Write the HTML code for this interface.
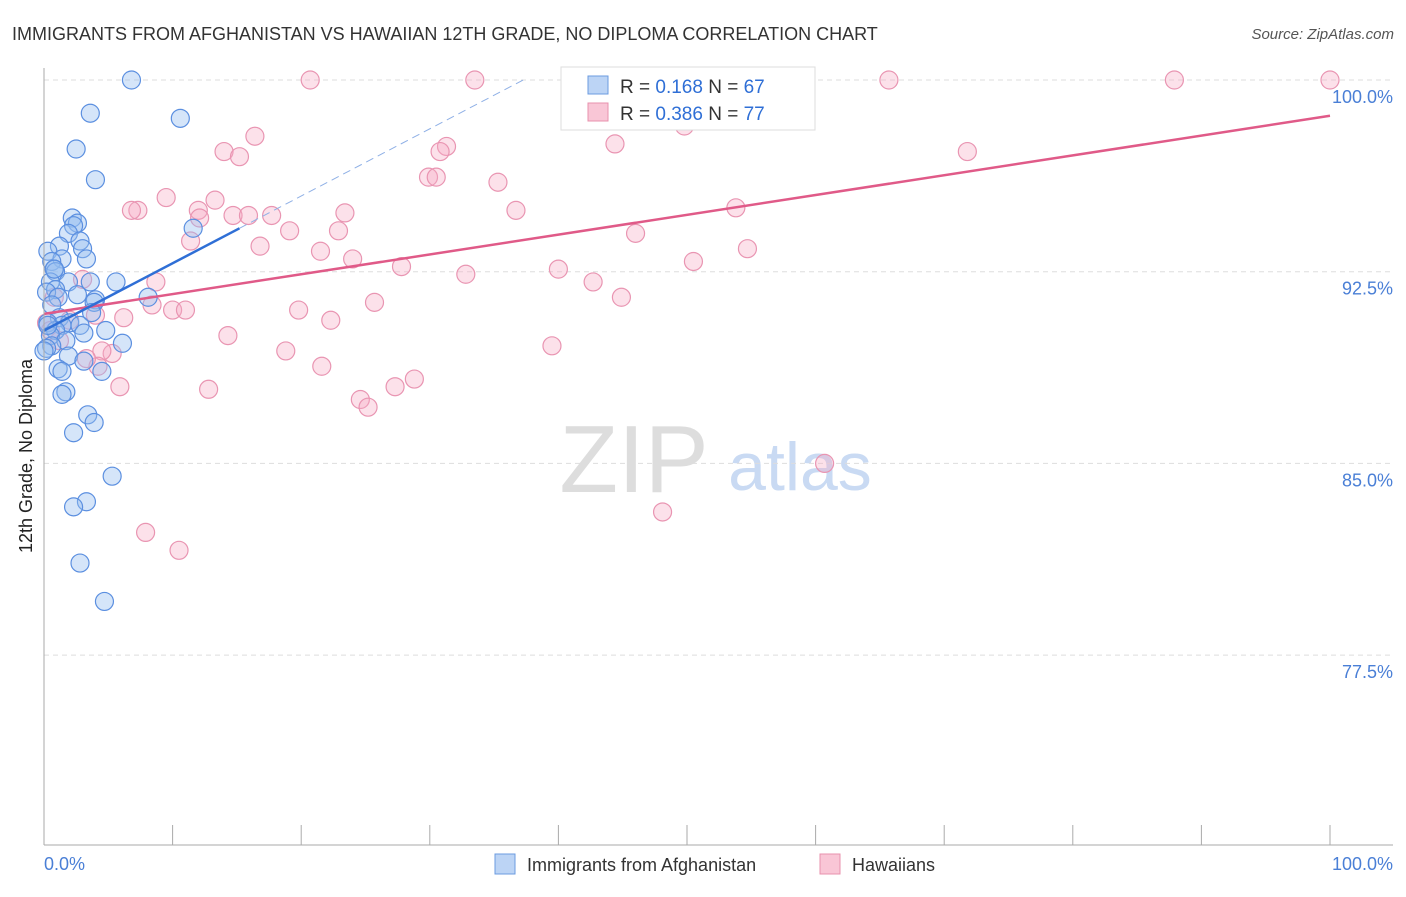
<!DOCTYPE html>
<html><head><meta charset="utf-8"><style>
body{margin:0;background:#fff;font-family:"Liberation Sans",sans-serif}
svg text{font-family:"Liberation Sans",sans-serif}
</style></head><body>
<svg width="1406" height="892" id="chart">
<text x="12" y="40" font-size="18" fill="#333">IMMIGRANTS FROM AFGHANISTAN VS HAWAIIAN 12TH GRADE, NO DIPLOMA CORRELATION CHART</text>
<text x="1394" y="39" font-size="15" fill="#555" font-style="italic" text-anchor="end">Source: ZipAtlas.com</text>
<text x="634" y="492" font-size="96" fill="#ddd" font-family="Liberation Serif" text-anchor="middle">ZIP</text>
<text x="800" y="490" font-size="68" fill="#c9daf3" text-anchor="middle">atlas</text>
<g id="grid"></g><g id="pts"></g><g id="lines"></g>
<line x1="44" y1="68" x2="44" y2="845" stroke="#aaa"/>
<line x1="44" y1="845" x2="1393" y2="845" stroke="#aaa"/>
<text x="32" y="456" font-size="18" fill="#222" text-anchor="middle" transform="rotate(-90 32 456)">12th Grade, No Diploma</text>
<text x="44" y="870" font-size="18" fill="#4a7fd6">0.0%</text>
<text x="1393" y="870" font-size="18" fill="#4a7fd6" text-anchor="end">100.0%</text>
<g>
<rect x="561" y="67" width="254" height="63" fill="#fff" stroke="#ddd"/>
<rect x="588" y="76" width="20" height="18" fill="#bcd4f5" stroke="#6b9be0"/>
<rect x="588" y="103" width="20" height="18" fill="#f9c6d6" stroke="#e891ad"/>
<text x="620" y="93" font-size="19" fill="#333">R = <tspan fill="#2f6fd6">0.168</tspan>   N = <tspan fill="#2f6fd6">67</tspan></text>
<text x="620" y="120" font-size="19" fill="#333">R = <tspan fill="#2f6fd6">0.386</tspan>   N = <tspan fill="#2f6fd6">77</tspan></text>
</g>
<g>
<rect x="495" y="854" width="20" height="20" fill="#bcd4f5" stroke="#6b9be0"/>
<text x="527" y="871" font-size="18" fill="#333">Immigrants from Afghanistan</text>
<rect x="820" y="854" width="20" height="20" fill="#f9c6d6" stroke="#e891ad"/>
<text x="852" y="871" font-size="18" fill="#333">Hawaiians</text>
</g>
</svg>
<script>
const yTicks=[100,92.5,85,77.5];
const yTickLabels=["100.0%","92.5%","85.0%","77.5%"];
const xTicks=[0,10,20,30,40,50,60,70,80,90,100];
const blueX=[6.8,3.6,10.6,2.5,4.0,2.2,2.6,2.3,11.6,1.9,2.8,1.2,3.0,0.3,3.3,1.4,0.6,0.8,0.9,5.6,1.9,0.5,3.6,0.9,0.2,2.6,1.1,4.0,3.9,8.1,0.6,3.7,1.2,0.3,2.0,1.4,2.8,0.9,4.8,3.1,0.5,1.7,6.1,0.6,0.2,1.9,3.1,1.1,1.4,4.5,1.7,1.4,3.4,3.9,2.3,5.3,3.3,2.3,2.8,4.7,0.8,0,0.3];
const blueY=[100,98.7,98.5,97.3,96.1,94.6,94.4,94.3,94.2,94.0,93.7,93.5,93.4,93.3,93.0,93.0,92.9,92.6,92.5,92.1,92.1,92.1,92.1,91.8,91.7,91.6,91.5,91.4,91.3,91.5,91.2,90.9,90.7,90.5,90.5,90.4,90.4,90.2,90.2,90.1,90.0,89.8,89.7,89.6,89.5,89.2,89.0,88.7,88.6,88.6,87.8,87.7,86.9,86.6,86.2,84.5,83.5,83.3,81.1,79.6,92.6,89.4,90.4];
const pinkX=[20.7,33.5,49.8,65.7,87.9,100,16.4,44.4,14.0,15.2,31.3,30.8,29.9,30.5,35.3,9.5,13.3,7.3,6.8,12.0,12.1,14.7,15.9,17.7,23.4,36.7,53.8,19.1,22.9,11.4,16.8,21.5,24.0,46.0,54.7,27.8,32.8,40.0,50.5,8.7,42.7,44.9,25.7,8.4,10.0,11.0,19.8,22.3,6.2,4.0,0.8,14.3,18.8,39.5,21.6,5.3,4.5,4.2,28.8,27.3,24.6,25.2,5.9,12.8,60.7,48.1,7.9,10.5,71.8,49.8,0.2,0.5,1.2,2.0,3.0,3.3];
const pinkY=[100,100,100,100,100,100,97.8,97.5,97.2,97.0,97.4,97.2,96.2,96.2,96.0,95.4,95.3,94.9,94.9,94.9,94.6,94.7,94.7,94.7,94.8,94.9,95.0,94.1,94.1,93.7,93.5,93.3,93.0,94.0,93.4,92.7,92.4,92.6,92.9,92.1,92.1,91.5,91.3,91.2,91.0,91.0,91.0,90.6,90.7,90.8,91.5,90.0,89.4,89.6,88.8,89.3,89.4,88.8,88.3,88.0,87.5,87.2,88.0,87.9,85.0,83.1,82.3,81.6,97.2,98.2,90.5,90.2,89.8,90.6,92.2,89.1];
const blueTrend=[90.2,0.263]; // intercept, slope
const pinkTrend=[90.85,0.0775];
const sx=v=>44+v*12.86, sy=v=>80+(100-v)*25.56;
const NS="http://www.w3.org/2000/svg";
function mk(t,a,p){const e=document.createElementNS(NS,t);for(const k in a)e.setAttribute(k,a[k]);p.appendChild(e);return e;}
const grid=document.getElementById('grid');
yTicks.forEach((t,i)=>{
 const l=mk('line',{x1:44,x2:1393,y1:sy(t),y2:sy(t),stroke:'#ddd','stroke-dasharray':'5,4'},grid);
 
 
 const tx=mk('text',{x:1393,y:sy(t)+23,'font-size':18,fill:'#4a7fd6','text-anchor':'end'},grid);
 tx.textContent=yTickLabels[i];
 
 
});
xTicks.forEach(t=>{
 const l=mk('line',{x1:sx(t),x2:sx(t),y1:825,y2:845,stroke:'#aaa'},grid);
 
 
});
const pts=document.getElementById('pts');
pinkX.forEach((x,i)=>{
 const c=mk('circle',{cx:sx(x),cy:sy(pinkY[i]),r:9,fill:'rgba(245,170,195,0.35)',stroke:'#e995b2','stroke-width':1.2},pts);
 
 
});
blueX.forEach((x,i)=>{
 const c=mk('circle',{cx:sx(x),cy:sy(blueY[i]),r:9,fill:'rgba(150,190,240,0.4)',stroke:'#5b8fe0','stroke-width':1.2},pts);
 
 
});
const lg=document.getElementById('lines');
const f=(tr,x)=>tr[0]+tr[1]*x;
let l=mk('line',{x1:sx(0),y1:sy(f(pinkTrend,0)),x2:sx(100),y2:sy(f(pinkTrend,100)),stroke:'#e05a88','stroke-width':2.5},lg);


l=mk('line',{x1:sx(0),y1:sy(f(blueTrend,0)),x2:sx(15.2),y2:sy(f(blueTrend,15.2)),stroke:'#2f6fd6','stroke-width':2.5},lg);


const xe=(100-blueTrend[0])/blueTrend[1];
l=mk('line',{x1:sx(15.2),y1:sy(f(blueTrend,15.2)),x2:sx(xe),y2:sy(100),stroke:'#8fb0e6','stroke-width':1,'stroke-dasharray':'8,5'},lg);


</script>
</body></html>
